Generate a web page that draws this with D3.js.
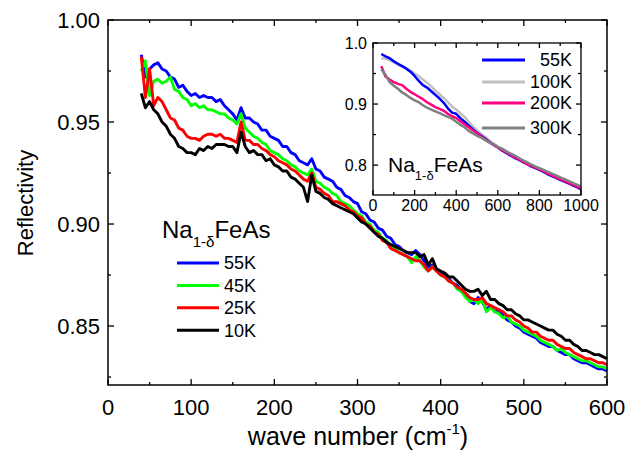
<!DOCTYPE html>
<html>
<head>
<meta charset="utf-8">
<script src="https://cdn.jsdelivr.net/npm/d3@7"></script>
<style>
  html, body { margin: 0; padding: 0; background: #fff; }
  svg { display: block; font-family: "Liberation Sans", Arial, sans-serif; }
  .tk line { stroke: #000; stroke-width: 1.3; }
</style>
</head>
<body>
<div id="root"></div>
<script>
// main panel: reflectivity vs wave number, 4 temperatures
const waveNumber = [40,45,50,55,60,65,70,75,80,85,90,95,100,105,110,115,120,125,130,135,140,145,150,155,160,165,170,175,180,185,190,195,200,205,210,215,220,225,230,235,240,245,250,255,260,265,270,275,280,285,290,295,300,305,310,315,320,325,330,335,340,345,350,355,360,365,370,375,380,385,390,395,400,405,410,415,420,425,430,435,440,445,450,455,460,465,470,475,480,485,490,495,500,505,510,515,520,525,530,535,540,545,550,555,560,565,570,575,580,585,590,595,600];

const r55K = [0.983,0.972,0.976,0.978,0.979,0.976,0.975,0.972,0.971,0.967,0.968,0.965,0.963,0.964,0.962,0.963,0.962,0.962,0.960,0.961,0.958,0.956,0.954,0.951,0.957,0.952,0.952,0.950,0.949,0.946,0.946,0.943,0.942,0.941,0.938,0.938,0.935,0.934,0.931,0.930,0.929,0.932,0.927,0.926,0.923,0.922,0.921,0.918,0.917,0.914,0.913,0.911,0.910,0.906,0.905,0.902,0.901,0.898,0.897,0.894,0.893,0.890,0.889,0.887,0.886,0.885,0.887,0.885,0.882,0.879,0.880,0.878,0.876,0.875,0.873,0.871,0.870,0.867,0.866,0.862,0.861,0.864,0.862,0.858,0.860,0.857,0.858,0.855,0.853,0.852,0.850,0.849,0.847,0.846,0.845,0.844,0.842,0.841,0.840,0.840,0.838,0.837,0.836,0.836,0.834,0.833,0.832,0.832,0.831,0.830,0.829,0.829,0.828];

const r45K = [0.975,0.980,0.963,0.970,0.971,0.969,0.970,0.972,0.966,0.965,0.962,0.961,0.958,0.959,0.957,0.958,0.956,0.956,0.955,0.954,0.954,0.952,0.951,0.949,0.954,0.947,0.945,0.943,0.942,0.940,0.939,0.936,0.935,0.934,0.932,0.931,0.929,0.928,0.926,0.925,0.924,0.927,0.921,0.920,0.918,0.917,0.915,0.914,0.911,0.910,0.909,0.907,0.905,0.904,0.901,0.900,0.897,0.896,0.893,0.892,0.889,0.888,0.886,0.885,0.884,0.881,0.884,0.882,0.879,0.877,0.879,0.877,0.875,0.874,0.872,0.871,0.868,0.867,0.864,0.862,0.863,0.861,0.863,0.857,0.859,0.857,0.856,0.854,0.855,0.852,0.851,0.850,0.848,0.847,0.846,0.845,0.843,0.842,0.841,0.840,0.838,0.839,0.837,0.836,0.835,0.834,0.833,0.833,0.832,0.831,0.830,0.830,0.829];

const r25K = [0.982,0.962,0.976,0.958,0.962,0.960,0.956,0.952,0.951,0.947,0.946,0.943,0.942,0.942,0.941,0.943,0.944,0.944,0.943,0.944,0.942,0.942,0.941,0.940,0.950,0.941,0.941,0.939,0.939,0.937,0.936,0.934,0.933,0.931,0.930,0.929,0.927,0.926,0.924,0.922,0.921,0.925,0.918,0.917,0.915,0.914,0.911,0.911,0.910,0.909,0.907,0.906,0.904,0.903,0.900,0.899,0.896,0.895,0.892,0.891,0.888,0.887,0.886,0.885,0.884,0.883,0.882,0.882,0.880,0.877,0.879,0.877,0.875,0.874,0.872,0.871,0.869,0.868,0.866,0.864,0.863,0.863,0.864,0.861,0.860,0.859,0.858,0.857,0.855,0.855,0.853,0.852,0.850,0.849,0.847,0.847,0.845,0.844,0.843,0.843,0.841,0.840,0.839,0.839,0.837,0.836,0.835,0.834,0.834,0.833,0.832,0.832,0.831];

const r10K = [0.964,0.957,0.960,0.956,0.954,0.950,0.948,0.944,0.942,0.938,0.937,0.935,0.935,0.934,0.937,0.936,0.938,0.937,0.939,0.939,0.939,0.938,0.938,0.935,0.945,0.938,0.935,0.936,0.934,0.934,0.931,0.932,0.929,0.928,0.926,0.926,0.923,0.922,0.920,0.918,0.911,0.924,0.916,0.915,0.913,0.912,0.910,0.909,0.908,0.907,0.906,0.905,0.903,0.901,0.900,0.898,0.896,0.894,0.893,0.891,0.890,0.889,0.888,0.887,0.886,0.886,0.886,0.884,0.885,0.880,0.883,0.878,0.877,0.876,0.874,0.874,0.872,0.870,0.868,0.867,0.867,0.868,0.865,0.867,0.863,0.863,0.861,0.860,0.858,0.858,0.856,0.855,0.853,0.853,0.852,0.851,0.850,0.849,0.848,0.848,0.846,0.845,0.843,0.843,0.841,0.840,0.838,0.838,0.837,0.836,0.836,0.835,0.834];

const mainNames  = ['55K','45K','25K','10K'];
const mainColors = ['#0000ff','#00ff00','#ff0000','#000000'];
const mainSeries = [r55K, r45K, r25K, r10K];

const xTicks = [0,100,200,300,400,500,600];
const xMinor = [50,150,250,350,450,550];
const yTicks = [0.85,0.90,0.95,1.00];
const yMinor = [0.825,0.875,0.925,0.975];

// inset: wider range, 4 temperatures
const insetWave = [40,60,80,100,120,140,160,180,200,220,240,260,280,300,320,340,360,380,400,420,440,460,480,500,520,540,560,580,600,620,640,660,680,700,720,740,760,780,800,820,840,860,880,900,920,940,960,980,1000];
const i55K  = [.982,.978,.975,.970,.966,.962,.958,.953,.946,.938,.931,.927,.921,.915,.909,.902,.893,.886,.884,.877,.871,.865,.859,.853,.848,.843,.838,.833,.829,.824,.820,.816,.812,.809,.805,.802,.798,.795,.792,.789,.785,.782,.779,.776,.773,.770,.767,.764,.760];
const i100K = [.975,.974,.972,.968,.964,.962,.959,.955,.950,.946,.940,.935,.929,.922,.916,.910,.903,.896,.891,.885,.879,.871,.864,.857,.851,.846,.840,.835,.830,.825,.821,.817,.813,.810,.806,.803,.799,.796,.793,.790,.787,.784,.781,.778,.775,.772,.769,.766,.763];
const i200K = [.962,.945,.940,.936,.933,.931,.925,.920,.916,.912,.908,.903,.899,.895,.892,.889,.884,.880,.877,.872,.867,.862,.857,.852,.847,.842,.837,.833,.829,.825,.821,.817,.813,.810,.806,.802,.799,.796,.793,.790,.786,.783,.780,.777,.774,.771,.768,.765,.761];
const i300K = [.957,.948,.936,.930,.925,.919,.915,.910,.906,.903,.898,.894,.891,.888,.885,.882,.879,.876,.871,.866,.862,.856,.852,.848,.845,.841,.837,.834,.830,.827,.823,.819,.816,.812,.808,.805,.801,.798,.795,.792,.789,.786,.783,.780,.777,.774,.771,.768,.765];

const insetNames  = ['55K','100K','200K','300K'];
const insetColors = ['#0000ff','#c0c0c0','#ff0080','#808080'];
const insetSeries = [i55K, i100K, i200K, i300K];
const insetDrawOrder = [1,0,2,3];

const W = 644, H = 456;
const svg = d3.select('#root').append('svg').attr('width', W).attr('height', H);

// ---- main panel
const m = {left: 108, right: 607, top: 20, bottom: 385};
const x = d3.scaleLinear().domain([0,600]).range([m.left, m.right]);
const y = d3.scaleLinear().domain([0.8211,1.0]).range([m.bottom, m.top]);

function ticks(g, scale, vals, orient, len, pos) {
  vals.forEach(v => {
    const p = scale(v);
    if (orient === 'b') g.append('line').attr('x1',p).attr('x2',p).attr('y1',pos).attr('y2',pos-len);
    if (orient === 't') g.append('line').attr('x1',p).attr('x2',p).attr('y1',pos).attr('y2',pos+len);
    if (orient === 'l') g.append('line').attr('y1',p).attr('y2',p).attr('x1',pos).attr('x2',pos+len);
    if (orient === 'r') g.append('line').attr('y1',p).attr('y2',p).attr('x1',pos).attr('x2',pos-len);
  });
}

const tg = svg.append('g').attr('class','tk');
ticks(tg, x, xTicks, 'b', 6, m.bottom); ticks(tg, x, xMinor, 'b', 3, m.bottom);
ticks(tg, x, xTicks, 't', 6, m.top);    ticks(tg, x, xMinor, 't', 3, m.top);
ticks(tg, y, yTicks, 'l', 6, m.left);   ticks(tg, y, yMinor, 'l', 3, m.left);
ticks(tg, y, yTicks, 'r', 6, m.right);  ticks(tg, y, yMinor, 'r', 3, m.right);

svg.selectAll('.xl').data(xTicks).join('text')
  .attr('x', d => x(d)).attr('y', 415)
  .attr('text-anchor','middle').attr('font-size',22).text(d => d);
svg.selectAll('.yl').data(yTicks).join('text')
  .attr('x', 100).attr('y', d => y(d)).attr('dy','0.36em')
  .attr('text-anchor','end').attr('font-size',22).text(d => d.toFixed(2));

const xt = svg.append('text').attr('x', 358).attr('y', 445)
  .attr('text-anchor','middle').attr('font-size',25);
xt.append('tspan').text('wave number (cm');
xt.append('tspan').attr('font-size',15).attr('dy',-11).text('-1');
xt.append('tspan').attr('dy',11).text(')');

svg.append('text').attr('transform','translate(33,203) rotate(-90)')
  .attr('text-anchor','middle').attr('font-size',22).text('Reflectivity');

const line = d3.line().x((d,i) => x(waveNumber[i])).y(d => y(d));
mainSeries.forEach((s,k) => {
  svg.append('path').attr('d', line(s)).attr('fill','none')
    .attr('stroke', mainColors[k]).attr('stroke-width', 2.9)
    .attr('stroke-linejoin','round');
});

svg.append('rect').attr('x', m.left).attr('y', m.top)
  .attr('width', m.right - m.left).attr('height', m.bottom - m.top)
  .attr('fill','none').attr('stroke','#000').attr('stroke-width',1.5);

// main legend
const lt = svg.append('text').attr('x',162).attr('y',238).attr('font-size',24);
lt.append('tspan').text('Na');
lt.append('tspan').attr('font-size',15).attr('dy',9).text('1-δ');
lt.append('tspan').attr('dy',-9).text('FeAs');
mainNames.forEach((n,k) => {
  const yy = 263 + k*22.4;
  svg.append('line').attr('x1',177).attr('x2',219).attr('y1',yy).attr('y2',yy)
    .attr('stroke', mainColors[k]).attr('stroke-width',3);
  svg.append('text').attr('x',224).attr('y',yy).attr('dy','0.36em')
    .attr('font-size',18).text(n);
});

// ---- inset
const im = {left: 373, right: 581, top: 43, bottom: 195};
const ix = d3.scaleLinear().domain([0,1000]).range([im.left, im.right]);
const iy = d3.scaleLinear().domain([0.751,1.0]).range([im.bottom, im.top]);

svg.append('rect').attr('x', im.left).attr('y', im.top)
  .attr('width', im.right - im.left).attr('height', im.bottom - im.top).attr('fill','#fff');

const ixT = [0,200,400,600,800,1000], ixM = [100,300,500,700,900];
const iyT = [0.8,0.9,1.0], iyM = [0.85,0.95];
const itg = svg.append('g').attr('class','tk');
ticks(itg, ix, ixT, 'b', 5, im.bottom); ticks(itg, ix, ixM, 'b', 3, im.bottom);
ticks(itg, ix, ixT, 't', 5, im.top);    ticks(itg, ix, ixM, 't', 3, im.top);
ticks(itg, iy, iyT, 'l', 5, im.left);   ticks(itg, iy, iyM, 'l', 3, im.left);
ticks(itg, iy, iyT, 'r', 5, im.right);  ticks(itg, iy, iyM, 'r', 3, im.right);

svg.selectAll('.ixl').data(ixT).join('text')
  .attr('x', d => ix(d)).attr('y', 211)
  .attr('text-anchor','middle').attr('font-size',16).text(d => d);
svg.selectAll('.iyl').data(iyT).join('text')
  .attr('x', 367).attr('y', d => iy(d)).attr('dy','0.36em')
  .attr('text-anchor','end').attr('font-size',16).text(d => d.toFixed(1));

const iline = d3.line().x((d,i) => ix(insetWave[i])).y(d => iy(d));
insetDrawOrder.forEach(k => {
  svg.append('path').attr('d', iline(insetSeries[k])).attr('fill','none')
    .attr('stroke', insetColors[k]).attr('stroke-width', 2.5)
    .attr('stroke-linejoin','round');
});

svg.append('rect').attr('x', im.left).attr('y', im.top)
  .attr('width', im.right - im.left).attr('height', im.bottom - im.top)
  .attr('fill','none').attr('stroke','#000').attr('stroke-width',1.3);

insetNames.forEach((n,k) => {
  const yy = [60,82,103,128][k];
  svg.append('line').attr('x1',482).attr('x2',525).attr('y1',yy).attr('y2',yy)
    .attr('stroke', insetColors[k]).attr('stroke-width',3);
  svg.append('text').attr('x',572).attr('y',yy).attr('dy','0.36em')
    .attr('text-anchor','end').attr('font-size',18).text(n);
});

const it = svg.append('text').attr('x',388).attr('y',172).attr('font-size',21);
it.append('tspan').text('Na');
it.append('tspan').attr('font-size',13).attr('dy',8).text('1-δ');
it.append('tspan').attr('dy',-8).text('FeAs');
</script>
</body>
</html>
